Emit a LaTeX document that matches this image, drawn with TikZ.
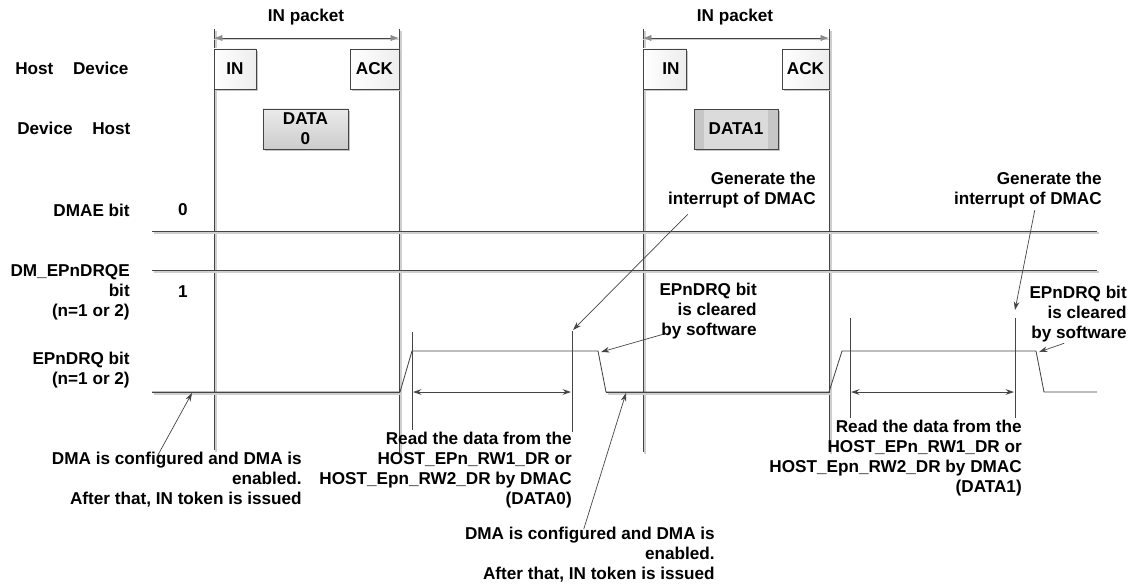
\documentclass[tikz,border=0pt]{standalone}
\usepackage{fontspec}
\setmainfont{Liberation Sans}
\usetikzlibrary{calc,arrows.meta,shadows}
\tikzset{every picture/.append style={font=\bfseries\fontsize{12.2}{14.2}\selectfont}}
\definecolor{figline}{HTML}{444444}
\definecolor{figshade}{HTML}{CFCFCF}
\definecolor{figtip}{HTML}{8C8C8C}

\begin{document}
\begin{tikzpicture}[x=0.025cm,y=-0.025cm,
    lbl/.style={inner sep=0pt,align=right},
    boxbase/.style={draw=figline,line width=0.6pt,minimum height=1cm,inner sep=0pt,
      drop shadow={shadow xshift=1.2pt,shadow yshift=-1.2pt,fill=gray!45,opacity=1}},
    pktbox/.style={boxbase,left color=white,right color=gray!14},
    databox/.style={boxbase,top color=gray!16,bottom color=gray!40,align=center},
    notearrow/.style={figline,line width=0.5pt,-{Stealth[length=6pt,width=4pt]}},
    spanarrow/.style={figline,line width=0.6pt,{Stealth[length=6pt,width=4pt]}-{Stealth[length=6pt,width=4pt]}},
    pktarrow/.style={figline,line width=0.6pt,
      {Latex[length=6pt,width=4.5pt,color=figtip]}-{Latex[length=6pt,width=4.5pt,color=figtip]}}]
    \useasboundingbox (0,0) rectangle (1135,586);
    \foreach \xa/\ya/\xb/\yb in {214/29/214/450,399/29/399/455,643/29/643/452,829/29/829/452,
        152/231/1097/231,152/270/1097/270,152/392/400/392,606/392/829/392} {
      \draw[figshade,line width=1.1pt] ($(\xa,\ya)+(2,2)$) -- ($(\xb,\yb)+(2,2)$);
      \draw[figline,line width=0.6pt] (\xa,\ya) -- (\xb,\yb);
    }
    \draw[figline,line width=0.6pt] plot coordinates {
      (152,392) (400,392) (412,351) (598,351) (606,392) (829,392) (842,351) (1036,351) (1044,392) (1097,392)};
    \foreach \x/\ya/\yb in {412/332/430,572/331/432,850/318/418,1015/318/418}
      \draw[figline,line width=0.6pt] (\x,\ya) -- (\x,\yb);
    \coordinate (pktAl) at (214,38);
    \coordinate (pktAr) at (399,38);
    \coordinate (pktBl) at (643,38);
    \coordinate (pktBr) at (829,38);
    \coordinate (rdAl) at (413,392);
    \coordinate (rdAr) at (571,392);
    \coordinate (rdBl) at (851,392);
    \coordinate (rdBr) at (1014,392);
    \draw[figshade,line width=1pt] ([yshift=-1.2pt]pktAl) -- ([yshift=-1.2pt]pktAr);
    \draw[figshade,line width=1pt] ([yshift=-1.2pt]pktBl) -- ([yshift=-1.2pt]pktBr);
    \draw[pktarrow] (pktAl) -- (pktAr);
    \draw[pktarrow] (pktBl) -- (pktBr);
    \draw[spanarrow] (rdAl) -- (rdAr);
    \draw[spanarrow] (rdBl) -- (rdBr);

    \node[pktbox,minimum width=1.05cm] (inA) at (235,69) {IN};
    \node[pktbox,minimum width=1.225cm] (ackA) at (374.5,69) {ACK};
    \node[databox,minimum width=2.125cm] (dataA) at (305.5,129) {DATA\\0};
    \node[pktbox,minimum width=1.075cm] (inB) at (664.5,69) {\hspace{9pt}IN};
    \node[pktbox,minimum width=1.175cm] (ackB) at (805.5,69) {ACK};
    \node[boxbase,fill=gray!28,minimum width=2.1cm,path picture={
        \fill[gray!45] (path picture bounding box.south west) rectangle ([xshift=0.25cm]path picture bounding box.north west);
        \fill[gray!45] (path picture bounding box.south east) rectangle ([xshift=-0.25cm]path picture bounding box.north east);}]
      (dataB) at (736,129) {DATA1};

    \node[lbl,anchor=west] (hostdev) at (15,68) {Host\hspace{14pt}Device};
    \node[lbl,anchor=west] (devhost) at (17,128) {Device\hspace{14pt}Host};
    \node[lbl,anchor=east] (dmae) at (130,210) {DMAE bit};
    \node[lbl,anchor=east] (drqe) at (130,292) {DM\_EPnDRQE\\bit\\(n=1 or 2)};
    \node[lbl,anchor=east] (drq) at (130,370) {EPnDRQ bit\\(n=1 or 2)};
    \node[lbl] (dmaeval) at (183,210) {0};
    \node[lbl] (drqeval) at (183,292) {1};
    \node[lbl] (pktA) at (306,17) {IN packet};
    \node[lbl] (pktB) at (735,17) {IN packet};
    \node[lbl,anchor=east] (genA) at (816,190) {Generate the\\interrupt of DMAC};
    \node[lbl,anchor=east] (genB) at (1102,190) {Generate the\\interrupt of DMAC};
    \node[lbl,anchor=east] (clrA) at (757,311) {EPnDRQ bit\\is cleared\\by software};
    \node[lbl,anchor=east] (clrB) at (1127,314) {EPnDRQ bit\\is cleared\\by software};
    \node[lbl,anchor=east] (readA) at (572,470) {Read the data from the\\HOST\_EPn\_RW1\_DR or\\HOST\_Epn\_RW2\_DR by DMAC\\(DATA0)};
    \node[lbl,anchor=east] (readB) at (1022,458) {Read the data from the\\HOST\_EPn\_RW1\_DR or\\HOST\_Epn\_RW2\_DR by DMAC\\(DATA1)};
    \node[lbl,anchor=east] (cfgA) at (302,480) {DMA is configured and DMA is\\enabled.\\After that, IN token is issued};
    \node[lbl,anchor=east] (cfgB) at (715,555) {DMA is configured and DMA is\\enabled.\\After that, IN token is issued};

    \coordinate (intA) at (573,330);
    \coordinate (intB) at (1015,310);
    \coordinate (fallA) at (601,352);
    \coordinate (fallB) at (1039,352);
    \coordinate (lowA) at (192,393);
    \coordinate (lowB) at (626,393);
    \draw[notearrow] ($(genA.south west)+(20,6)$) -- (intA);
    \draw[notearrow] ($(genB.south west)+(81,2)$) -- (intB);
    \draw[notearrow] ($(clrA.south west)+(4,-5)$) -- (fallA);
    \draw[notearrow] ($(clrB.south west)+(35,1)$) -- (fallB);
    \draw[notearrow] ($(cfgA.north west)+(105,5)$) -- (lowA);
    \draw[notearrow] ($(cfgB.north west)+(119,2)$) -- (lowB);
  \end{tikzpicture}
\end{document}
